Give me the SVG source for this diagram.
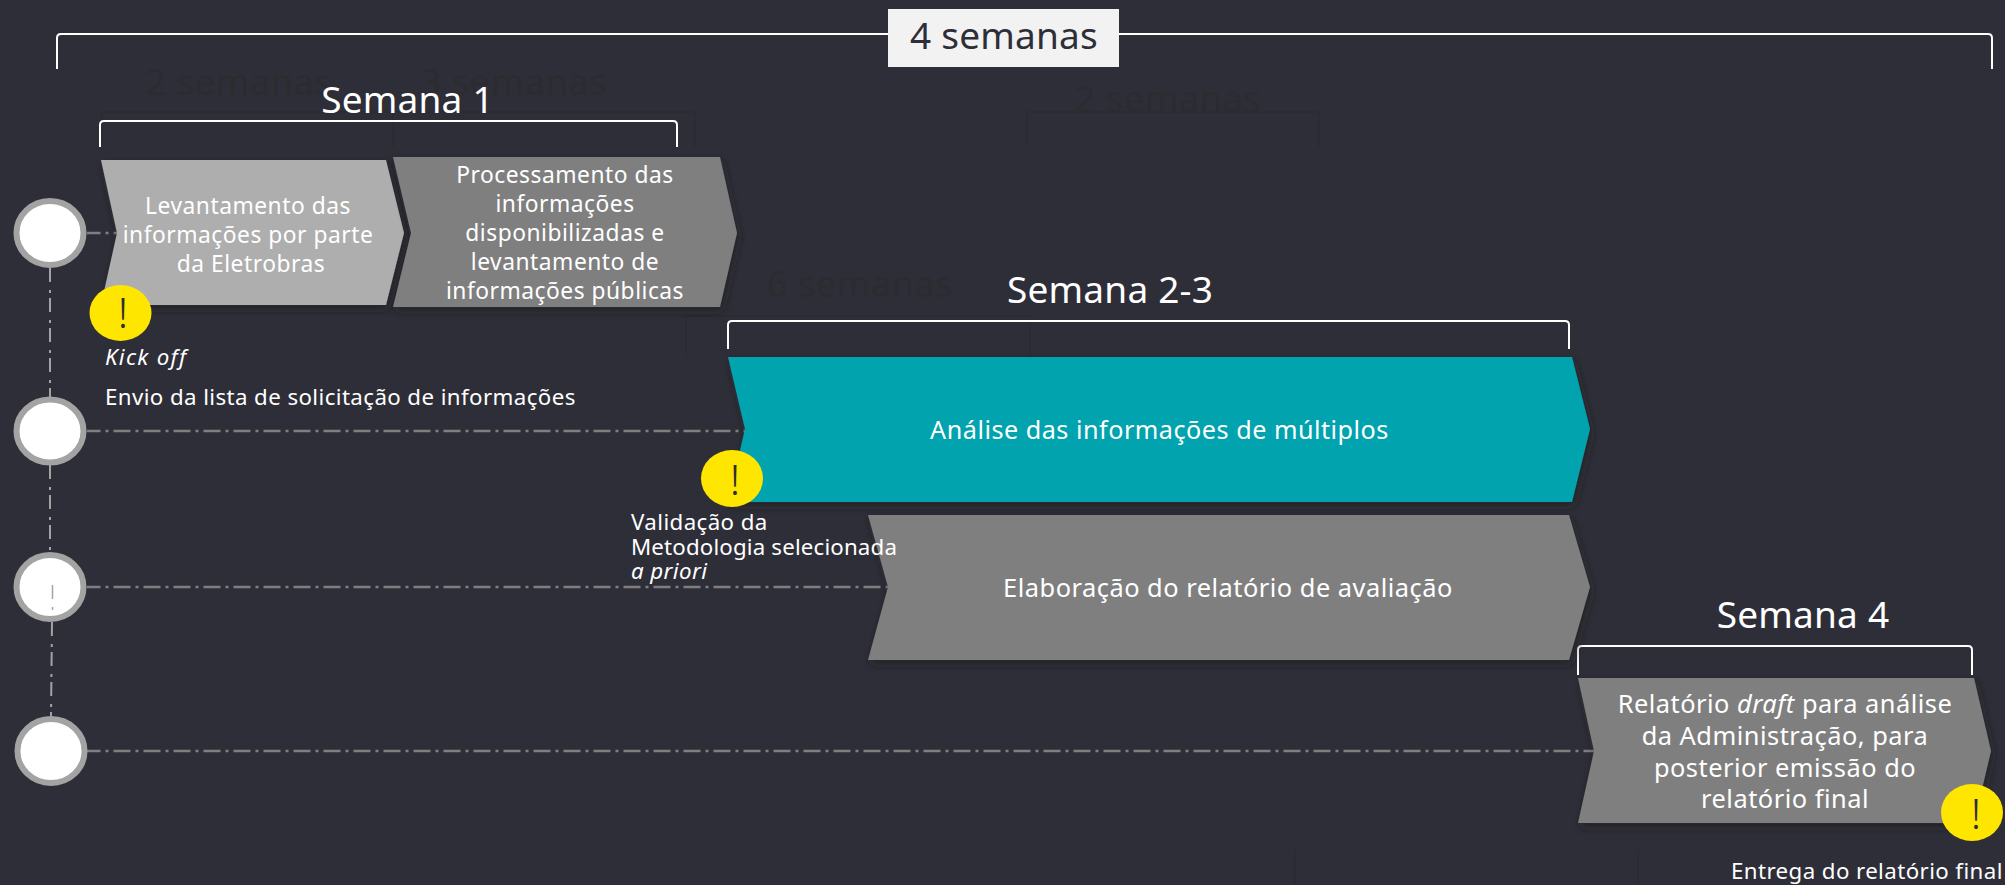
<svg xmlns="http://www.w3.org/2000/svg" width="2005" height="885" viewBox="0 0 2005 885">
<style>
text{font-family:"Noto Sans","Open Sans","Liberation Sans",sans-serif;fill:#fff}
.t{font-size:22.800px;text-anchor:middle;letter-spacing:.5px}
.w{font-size:25.400px;text-anchor:middle;letter-spacing:.5px}
.n{font-size:22.300px;letter-spacing:.4px}
.h{font-size:37px;text-anchor:middle;letter-spacing:.2px}
.g{font-size:36px;fill:#2b2c2f;text-anchor:middle;letter-spacing:.6px}
.gl{fill:none;stroke:#2b2c2f;stroke-width:1.500}
.b{fill:none;stroke:#fff;stroke-width:2}
.c{fill:none;stroke:#7f7f7f;stroke-width:2.500;stroke-dasharray:17 5 3 5;stroke-dashoffset:3.500}
.v{fill:none;stroke:#a3a3a3;stroke-width:2;stroke-dasharray:14 8 3 5}
.dot{fill:#fff;stroke:#a3a3a3;stroke-width:6}
.y{fill:#ffe600}
.x{font-size:42px;font-weight:300;fill:#2e2e38;text-anchor:middle}
</style>
<defs><filter id="s" x="-5%" y="-5%" width="110%" height="115%"><feDropShadow dx="2" dy="4" stdDeviation="4" flood-color="#1a1a20" flood-opacity=".6"/></filter></defs>
<rect width="2005" height="885" fill="#2e2e38"/>
<g id="ghost">
<text class="g" x="239" y="95">2 semanas</text>
<text class="g" x="514" y="95">3 semanas</text>
<text class="g" x="1168" y="112">2 semanas</text>
<text class="g" x="860" y="297">6 semanas</text>
<path class="gl" d="M102 147V112H393V147M393 112H695V147M1027 147V112H1319V147M686 357V316H1030V357M1295 850V885M1638 850V885"/>
</g>
<g id="connectors">
<path class="c" d="M87 233H118M87 431H746M87 587H889M87 751H1595"/>
<path class="v" d="M50 268V397M50 465V552M52 622L51 716"/>
</g>
<g id="bracket-total"><path class="b" d="M57 69V38Q57 34 61 34H1988Q1992 34 1992 38V69"/></g>
<g id="total"><rect x="888" y="9" width="231" height="58" fill="#f2f2f2"/><text class="h" x="1004" y="49" style="fill:#2e2e38">4 semanas</text></g>
<g id="semana1"><path class="b" d="M100 147V125Q100 121 104 121H673Q677 121 677 125V147"/><text class="h" x="407.500" y="113">Semana 1</text></g>
<g id="semana23"><path class="b" d="M728 349V325Q728 321 732 321H1565Q1569 321 1569 325V349"/><text class="h" x="1110" y="303">Semana 2-3</text></g>
<g id="semana4"><path class="b" d="M1578 675V650Q1578 646 1582 646H1968Q1972 646 1972 650V675"/><text class="h" x="1803" y="628">Semana 4</text></g>
<g id="step1"><polygon points="101,160 386,160 404,233 386,305 101,305 117,233" fill="#aeaeae" filter="url(#s)"/>
<text class="t" x="248" y="214">Levantamento das</text><text class="t" x="248" y="243">informações por parte</text><text class="t" x="251" y="272">da Eletrobras</text></g>
<g id="step2"><polygon points="393,157 720,157 737,233 720,307 393,307 411,233" fill="#7f7f7f" filter="url(#s)"/>
<text class="t" x="565" y="183">Processamento das</text><text class="t" x="565" y="212">informações</text><text class="t" x="565" y="241">disponibilizadas e</text><text class="t" x="565" y="270">levantamento de</text><text class="t" x="565" y="299">informações públicas</text></g>
<g id="step3"><polygon points="728,357 1572,357 1590,429 1572,502 728,502 745,429" fill="#00a3ae" filter="url(#s)"/>
<text class="w" x="1159.500" y="439" style="font-size:25.200px">Análise das informações de múltiplos</text></g>
<g id="step4"><polygon points="868,515 1569,515 1590,587 1569,660 868,660 888,587" fill="#7f7f7f" filter="url(#s)"/>
<text class="w" x="1228" y="597">Elaboração do relatório de avaliação</text></g>
<g id="step5"><polygon points="1578,678 1974,678 1991,751 1974,823 1578,823 1594,751" fill="#7f7f7f" filter="url(#s)"/>
<text class="w" x="1785" y="713">Relatório <tspan font-style="italic">draft</tspan> para análise</text><text class="w" x="1785" y="745">da Administração, para</text><text class="w" x="1785" y="777">posterior emissão do</text><text class="w" x="1785" y="808">relatório final</text></g>
<g id="dot1"><ellipse class="dot" cx="50" cy="233" rx="33.500" ry="32"/></g>
<g id="dot2"><ellipse class="dot" cx="50" cy="431" rx="33.500" ry="31.500"/></g>
<g id="dot3"><ellipse class="dot" cx="50" cy="587" rx="33.500" ry="32"/><path class="v" d="M52.500 585V612" style="stroke-width:1.500"/></g>
<g id="dot4"><ellipse class="dot" cx="51" cy="751" rx="33.500" ry="32"/></g>
<g id="alert1"><ellipse class="y" cx="120.500" cy="313" rx="31" ry="28"/><text class="x" x="123" y="328">!</text></g>
<g id="alert2"><ellipse class="y" cx="732" cy="478.500" rx="31" ry="28.500"/><text class="x" x="735" y="495">!</text></g>
<g id="alert3"><ellipse class="y" cx="1972" cy="812.500" rx="31" ry="28.500"/><text class="x" x="1976" y="829">!</text></g>
<g id="notes">
<text class="n" x="105" y="365" font-style="italic" style="letter-spacing:1.300px">Kick off</text>
<text class="n" x="105" y="405">Envio da lista de solicitação de informações</text>
<text class="n" x="631" y="530">Validação da</text>
<text class="n" x="631" y="555" style="letter-spacing:.15px">Metodologia selecionada</text>
<text class="n" x="631" y="579" font-style="italic">a priori</text>
<text class="n" x="1731" y="879">Entrega do relatório final</text>
</g>
</svg>
